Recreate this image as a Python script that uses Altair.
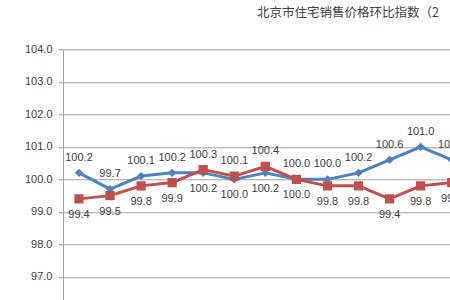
import altair as alt
import pandas as pd

# ---- data ----
periods = list(range(1, 14))
series_names = ["新建商品住宅", "二手住宅"]
blue_values = [100.2, 99.7, 100.1, 100.2, 100.2, 100.0, 100.2, 100.0, 100.0, 100.2, 100.6, 101.0, 100.6]
red_values = [99.4, 99.5, 99.8, 99.9, 100.3, 100.1, 100.4, 100.0, 99.8, 99.8, 99.4, 99.8, 99.9]
y_ticks = [97.0, 98.0, 99.0, 100.0, 101.0, 102.0, 103.0, 104.0]
title_text = "北京市住宅销售价格环比指数（2"

BLUE = "#4F81BD"
RED = "#C0504D"

rows = []
for i, p in enumerate(periods):
    b, r = blue_values[i], red_values[i]
    rows.append({"period": p, "series": series_names[0], "value": b,
                 "pos": "above" if b >= r else "below"})
    rows.append({"period": p, "series": series_names[1], "value": r,
                 "pos": "above" if r > b else "below"})
df = pd.DataFrame(rows)

x = alt.X("period:Q", scale=alt.Scale(domain=[0.485, 12.945], nice=False, zero=False), axis=None)
y = alt.Y("value:Q",
          scale=alt.Scale(domain=[96.29, 104.0], nice=False, zero=False),
          axis=alt.Axis(values=y_ticks, format=".1f", title=None, grid=True,
                        tickSize=5, labelPadding=6, domainColor="#A0A0A0",
                        gridColor="#A0A0A0", tickColor="#A0A0A0",
                        labelFont="Liberation Sans", labelFontSize=11,
                        labelColor="#404040"))
color = alt.Color("series:N", scale=alt.Scale(domain=series_names, range=[BLUE, RED]), legend=None)

base = alt.Chart(df)

def series_layers(name, shape, size):
    d = base.transform_filter(alt.datum.series == name)
    line = d.mark_line(strokeWidth=3, strokeJoin="round", clip=True).encode(x=x, y=y, color=color)
    pts = d.mark_point(shape=shape, size=size, filled=True, opacity=1, clip=True).encode(x=x, y=y, color=color)
    return [line, pts]

layers = series_layers(series_names[0], "diamond", 70) + series_layers(series_names[1], "square", 85)

lab_above = base.transform_filter(alt.datum.pos == "above").mark_text(
    dy=-15, baseline="middle", font="Liberation Sans", fontSize=11, color="#404040", clip=True
).encode(x=x, y=y, text=alt.Text("value:Q", format=".1f"))
lab_below = base.transform_filter(alt.datum.pos == "below").mark_text(
    dy=16, baseline="middle", font="Liberation Sans", fontSize=11, color="#404040", clip=True
).encode(x=x, y=y, text=alt.Text("value:Q", format=".1f"))

chart = alt.layer(*layers, lab_above, lab_below).properties(
    width=387, height=250.7,
    autosize=alt.AutoSizeParams(type="none"),
    padding={"left": 63, "top": 49.3, "right": 0, "bottom": 0},
    title=alt.TitleParams(title_text, anchor="start", frame="group", dx=194, offset=24,
                          font="Noto Sans CJK SC", fontSize=12.5, fontWeight="normal",
                          color="#404040"),
).configure_view(stroke=None).configure(background="white")

chart.save("out.html", embed_options={"renderer": "svg", "actions": False})
